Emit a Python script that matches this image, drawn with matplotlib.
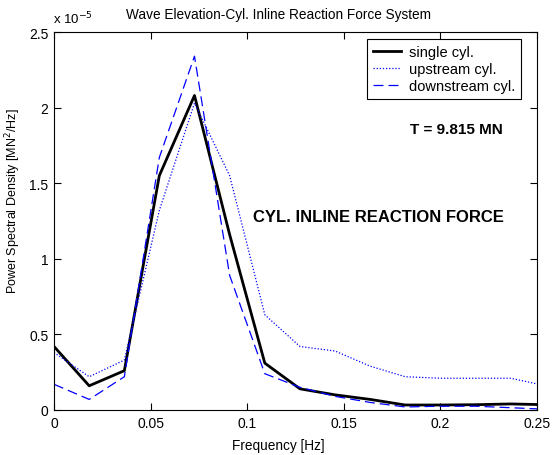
import matplotlib
matplotlib.use("Agg")
import matplotlib.pyplot as plt

plt.rcParams['font.family'] = ['Liberation Sans', 'DejaVu Sans']

# frequency [Hz] and PSD values (x 1e-5 MN^2/Hz)
freq = [0.0, 0.0182, 0.0364, 0.0545, 0.0727, 0.0909, 0.1091, 0.1273,
        0.1455, 0.1636, 0.1818, 0.2, 0.2182, 0.2364, 0.2545]
single = [0.42, 0.16, 0.26, 1.55, 2.08, 1.16, 0.31, 0.14,
          0.10, 0.07, 0.033, 0.033, 0.035, 0.04, 0.035]
upstream = [0.38, 0.22, 0.33, 1.32, 2.03, 1.55, 0.63, 0.42,
            0.39, 0.29, 0.22, 0.21, 0.21, 0.21, 0.16]
downstream = [0.17, 0.07, 0.22, 1.67, 2.34, 0.89, 0.24, 0.15,
              0.09, 0.05, 0.02, 0.025, 0.025, 0.015, 0.005]

fig = plt.figure(figsize=(5.53, 4.56), dpi=100)
ax = fig.add_axes([0.0977, 0.0987, 0.8734, 0.8289])

ax.plot(freq, single, color='black', lw=2, label='single cyl.')
ax.plot(freq, upstream, color='blue', lw=0.9, ls=(0, (1, 1.5)), label='upstream cyl.')
ax.plot(freq, downstream, color='blue', lw=0.9, ls=(0, (8, 4)), label='downstream cyl.')

ax.set_xlim(0, 0.25)
ax.set_ylim(0, 2.5)
ax.set_xticks([0, 0.05, 0.1, 0.15, 0.2, 0.25])
ax.set_xticklabels(['0', '0.05', '0.1', '0.15', '0.2', '0.25'])
ax.set_yticks([0, 0.5, 1, 1.5, 2, 2.5])
ax.set_yticklabels(['0', '0.5', '1', '1.5', '2', '2.5'])
ax.tick_params(direction='in', top=True, right=True, labelsize=10, length=5, pad=4)

ax.set_xlabel('Frequency [Hz]', fontsize=9.8)
ax.xaxis.set_label_coords(0.465, -0.075)
ax.set_ylabel('Power Spectral Density [MN$^2$/Hz]', fontsize=9)
ax.yaxis.set_label_coords(-0.065, 0.556)
ax.set_title('Wave Elevation-Cyl. Inline Reaction Force System', fontsize=9.8, x=0.465, pad=10)
ax.text(-0.002, 1.015, 'x 10$^{-5}$', transform=ax.transAxes, fontsize=9.5, va='bottom')

ax.text(0.832, 0.743, 'T = 9.815 MN', transform=ax.transAxes, fontsize=11,
        fontweight='bold', ha='center', va='center')
ax.text(0.671, 0.511, 'CYL. INLINE REACTION FORCE', transform=ax.transAxes, fontsize=12,
        fontweight='bold', ha='center', va='center')

leg = ax.legend(loc='upper right', bbox_to_anchor=(0.967, 0.981), fontsize=10.5,
                fancybox=False, framealpha=1, edgecolor='black', borderaxespad=0,
                handlelength=1.9, handletextpad=0.55, labelspacing=0.2, borderpad=0.4)
leg.get_frame().set_linewidth(0.8)

fig.savefig('out.png', dpi=100)
